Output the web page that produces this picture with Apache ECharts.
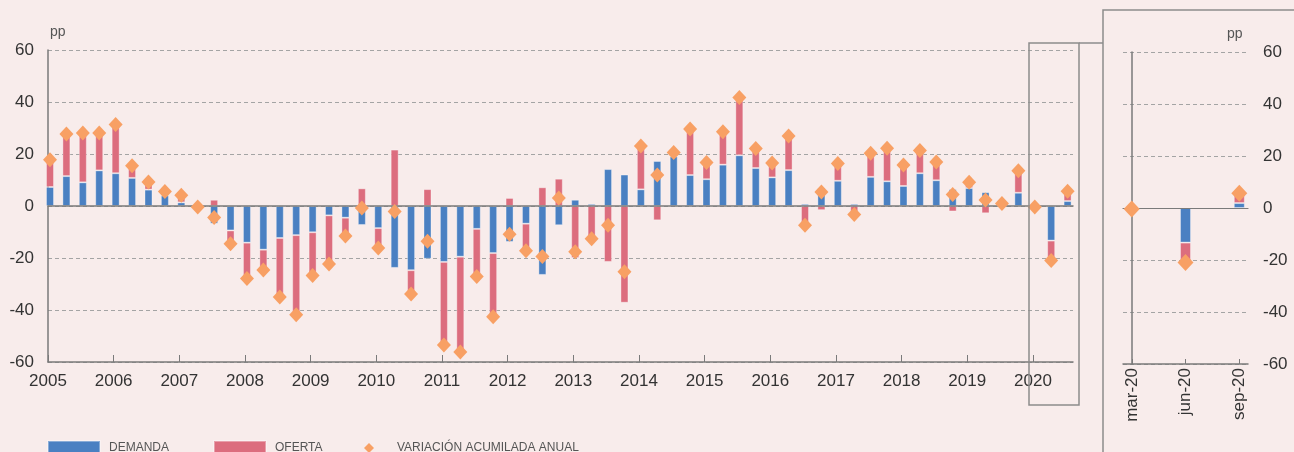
<!DOCTYPE html>
<html>
<head>
<meta charset="utf-8">
<script src="https://cdn.jsdelivr.net/npm/echarts@6.0.0/dist/echarts.min.js"></script>
<style>
html,body{margin:0;padding:0;background:#f8eceb;}
#chart{width:1294px;height:452px;}
</style>
</head>
<body>
<div id="chart"></div>
<script>
// años del eje principal (datos trimestrales 2005T1 - 2020T3)
var years = [2005,2006,2007,2008,2009,2010,2011,2012,2013,2014,2015,2016,2017,2018,2019,2020];
var demanda = [
	7.3,11.5,9.1,13.7, 12.6,10.8,6.3,4.1, 1.4,0.2,-6.8,-9.4, -14.1,-16.8,-12.3,-11.2,
	-10.1,-3.6,-4.5,-7.3, -8.5,-23.8,-24.7,-20.3, -21.5,-19.5,-8.8,-18.1, -13.8,-6.8,-26.5,-7.4,
	2.4,0.8,14.2,12.1, 6.4,17.3,19.1,11.9, 10.3,15.9,19.5,14.6, 11.0,13.8,0.8,7.0,
	9.7,0.8,11.2,9.5, 7.7,12.6,9.9,6.5, 6.9,5.3,1.2,5.1, -1.2,-13.3,1.9
];
var oferta = [
	10.5,16.2,19.0,14.4, 18.7,4.7,2.9,1.5, 2.7,-0.5,2.4,-5.1, -13.8,-7.8,-22.7,-30.6,
	-16.6,-18.7,-7.0,6.8, -7.7,21.7,-9.1,6.5, -32.0,-36.7,-18.3,-24.5, 3.1,-10.4,7.2,10.5,
	-20.0,-13.4,-21.5,-37.2, 16.8,-5.5,1.5,17.7, 6.4,12.7,22.2,7.5, 5.5,13.1,-8.2,-1.6,
	6.6,-4.1,9.1,12.7, 8.1,8.7,7.0,-2.1, 2.2,-2.8,0,8.5, 0.8,-7.3,3.8
];
var variacion = [
	17.8,27.7,28.1,28.1, 31.3,15.5,9.2,5.6, 4.1,-0.4,-4.4,-14.5, -27.9,-24.6,-35.0,-41.8,
	-26.7,-22.3,-11.5,-0.8, -16.2,-2.1,-33.8,-13.6, -53.5,-56.2,-27.1,-42.6, -10.9,-17.2,-19.4,3.1,
	-17.6,-12.6,-7.4,-25.3, 23.1,11.9,20.6,29.6, 16.7,28.6,41.7,22.1, 16.5,26.9,-7.4,5.4,
	16.3,-3.3,20.3,22.2, 15.8,21.3,16.9,4.4, 9.1,2.3,1.0,13.6, -0.4,-21.0,5.7
];
var zoomLabels = ['mar-20','jun-20','sep-20'];

var C_DEM = '#4a80c2', C_OFE = '#dc6d7e', C_VAR = '#f8a064';
var FONT = 'Liberation Sans, Arial, sans-serif';
var NARROW = '"Liberation Sans Narrow", "Liberation Sans", sans-serif';

var myChart = echarts.init(document.getElementById('chart'));

// categorias trimestrales
var quarters = [];
for (var i = 0; i < demanda.length; i++) quarters.push(years[Math.floor(i / 4)] + 'T' + (i % 4 + 1));
var n = demanda.length;

var dashed = {show:true, lineStyle:{color:'#a4a4a4', type:[4,3], width:1}};
var axisGray = {color:'#7a7a7a', width:1.5};
var barBorder = {borderColor:'rgba(255,255,255,0.35)', borderWidth:1};
var legendText = {fontFamily:NARROW, fontSize:12, color:'#555'};
var hiddenAxis = {show:false};

var option = {
	backgroundColor:'#f8eceb',
	animation:false,
	grid:[
		{left:48, right:221, top:50, bottom:90},          // ejes visibles, panel principal
		{left:50, right:226.4, top:50, bottom:90},        // barras, panel principal
		{left:1123, right:46, top:52, bottom:88},         // ejes visibles, detalle 2020
		{left:1131.7, right:54.7, top:52, bottom:88}      // barras, detalle 2020
	],
	legend:[
		{data:['DEMANDA'], left:47, top:440, padding:0, itemWidth:52, itemHeight:14, icon:'rect',
			textStyle:Object.assign({padding:[0,0,0,4]}, legendText)},
		{data:['OFERTA'], left:213, top:440, padding:0, itemWidth:52, itemHeight:14, icon:'rect',
			textStyle:Object.assign({padding:[0,0,0,4]}, legendText)},
		{data:['VARIACIÓN ACUMILADA ANUAL'], left:364, top:442, padding:0, itemWidth:10, itemHeight:10, icon:'diamond',
			textStyle:Object.assign({padding:[0,0,0,18]}, legendText)}
	],
	xAxis:[
		{
			type:'value', gridIndex:0, min:2005, max:2020.61,
			axisLine:{onZero:false, lineStyle:axisGray},
			axisTick:{show:true, inside:true, length:7, customValues:years, lineStyle:{color:'#7a7a7a'}},
			axisLabel:{customValues:years, fontSize:17, fontFamily:FONT, color:'#333', margin:11,
				formatter:function(v){ return String(v); }},
			splitLine:{show:false}
		},
		{ // linea del cero, panel principal
			type:'value', gridIndex:0, position:'top', min:0, max:1, z:3,
			axisLine:{onZero:true, lineStyle:axisGray},
			axisTick:hiddenAxis, axisLabel:hiddenAxis, splitLine:hiddenAxis
		},
		{type:'category', gridIndex:1, data:quarters, boundaryGap:false, show:false},
		{
			type:'value', gridIndex:2, min:-0.17, max:2.17,
			axisLine:{onZero:false, lineStyle:axisGray},
			axisTick:{show:true, inside:true, length:5, customValues:[0,1,2], lineStyle:{color:'#7a7a7a'}},
			axisLabel:{customValues:[0,1,2], rotate:90, fontSize:17, fontFamily:FONT, color:'#333', margin:4,
				formatter:function(v){ return zoomLabels[Math.round(v)]; }},
			splitLine:{show:false}
		},
		{ // linea del cero, detalle
			type:'value', gridIndex:2, position:'top', min:0, max:1, z:3,
			axisLine:{onZero:true, lineStyle:{color:'#7a7a7a', width:1.2}},
			axisTick:hiddenAxis, axisLabel:hiddenAxis, splitLine:hiddenAxis
		},
		{type:'category', gridIndex:3, data:zoomLabels, boundaryGap:false, show:false}
	],
	yAxis:[
		{
			type:'value', gridIndex:0, min:-60, max:60, interval:20,
			axisLine:{show:true, lineStyle:axisGray},
			axisTick:{show:false},
			axisLabel:{fontSize:17, fontFamily:FONT, color:'#333', margin:14},
			splitLine:dashed
		},
		{type:'value', gridIndex:1, min:-60, max:60, interval:20, show:false, splitLine:hiddenAxis},
		{
			type:'value', gridIndex:2, position:'right', min:-60, max:60, interval:20,
			axisLine:{show:true, lineStyle:axisGray},
			axisTick:{show:false},
			axisLabel:{fontSize:17, fontFamily:FONT, color:'#333', margin:15},
			splitLine:dashed
		},
		{type:'value', gridIndex:3, min:-60, max:60, interval:20, show:false, splitLine:hiddenAxis}
	],
	graphic:[
		{type:'text', left:50, top:25, style:{text:'pp', font:'14px ' + FONT, fill:'#555'}},
		{type:'text', left:1227, top:27, style:{text:'pp', font:'14px ' + FONT, fill:'#555'}},
		{type:'rect', shape:{x:1029, y:43, width:50, height:362},
			style:{fill:'none', stroke:'#8c8c8c', lineWidth:1.5}, z:10},
		{type:'line', shape:{x1:1079, y1:43, x2:1103, y2:43},
			style:{stroke:'#8c8c8c', lineWidth:1.5}, z:10},
		{type:'polyline', shape:{points:[[1103,460],[1103,10],[1300,10]]},
			style:{fill:'none', stroke:'#8c8c8c', lineWidth:1.5}, z:10}
	],
	series:[
		{name:'DEMANDA', type:'bar', stack:'main', barWidth:8, xAxisIndex:2, yAxisIndex:1,
			itemStyle:Object.assign({color:C_DEM}, barBorder), data:demanda},
		{name:'OFERTA', type:'bar', stack:'main', barWidth:8, xAxisIndex:2, yAxisIndex:1,
			itemStyle:Object.assign({color:C_OFE}, barBorder), data:oferta},
		{name:'VARIACIÓN ACUMILADA ANUAL', type:'scatter', symbol:'diamond', symbolSize:[14,15], z:6,
			xAxisIndex:2, yAxisIndex:1, itemStyle:{color:C_VAR, opacity:1}, data:variacion},
		{name:'DEMANDA', type:'bar', stack:'zoom', barWidth:11, xAxisIndex:5, yAxisIndex:3,
			itemStyle:Object.assign({color:C_DEM}, barBorder), data:demanda.slice(n - 3)},
		{name:'OFERTA', type:'bar', stack:'zoom', barWidth:11, xAxisIndex:5, yAxisIndex:3,
			itemStyle:Object.assign({color:C_OFE}, barBorder), data:oferta.slice(n - 3)},
		{name:'VARIACIÓN ACUMILADA ANUAL', type:'scatter', symbol:'diamond', symbolSize:[16,17], z:6,
			xAxisIndex:5, yAxisIndex:3, itemStyle:{color:C_VAR, opacity:1}, data:variacion.slice(n - 3)}
	]
};
myChart.setOption(option);
</script>
</body>
</html>
